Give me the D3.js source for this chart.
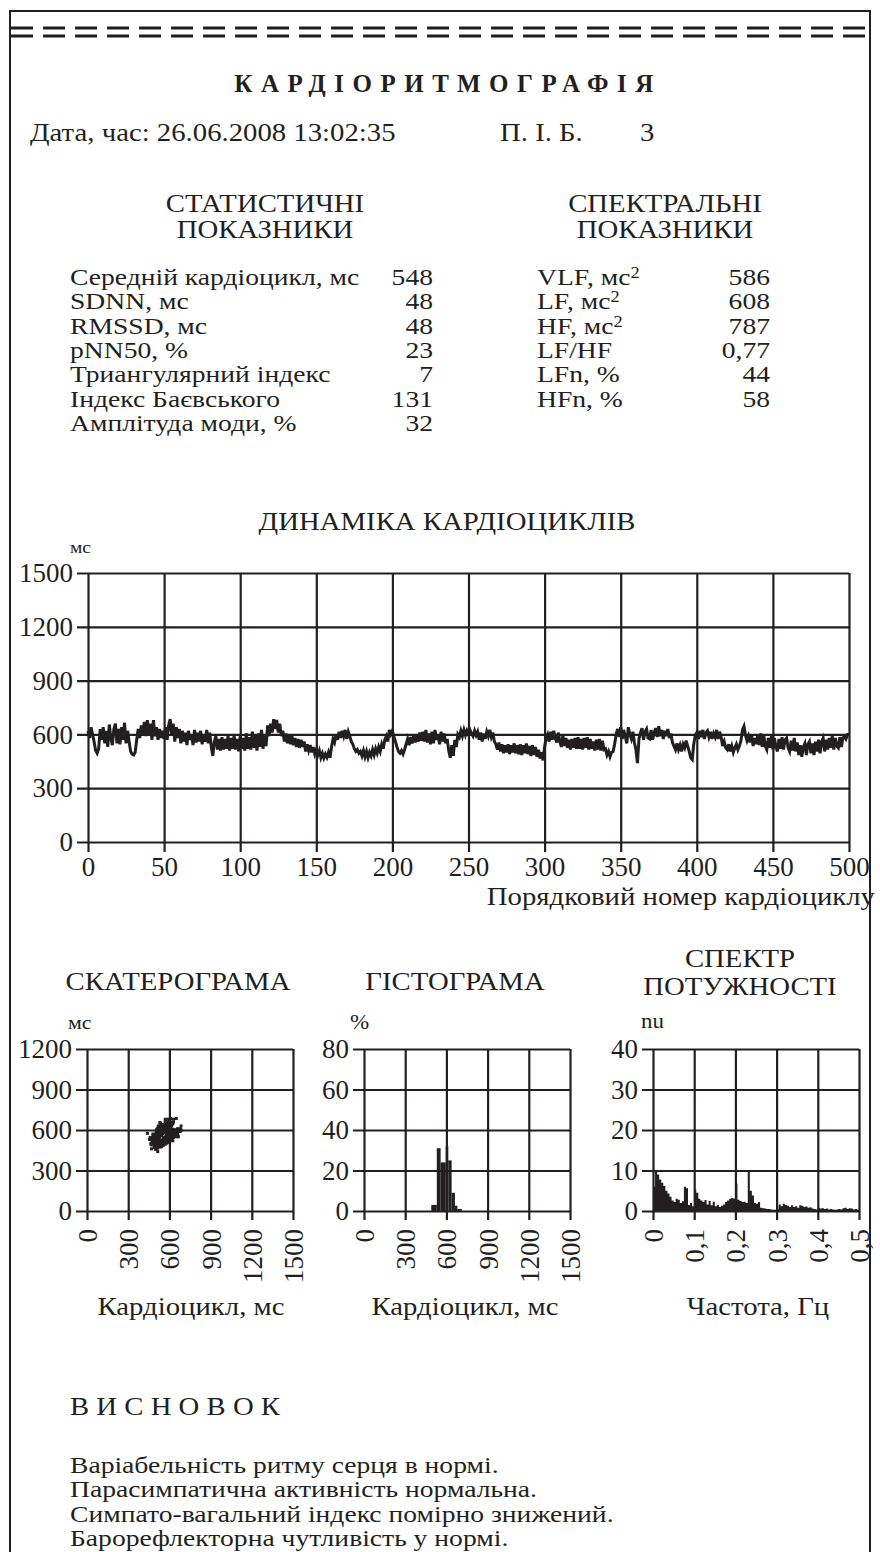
<!DOCTYPE html>
<html>
<head>
<meta charset="utf-8">
<script src="https://cdn.jsdelivr.net/npm/d3@7"></script>
<style>
  body { margin: 0; background: #fff; }
  svg text { font-family: "Liberation Serif", "DejaVu Serif", serif; fill: #231f20; }
</style>
</head>
<body>
<svg id="page" width="880" height="1552" font-family="Liberation Serif"></svg>
<script>
// ---- data ----
const statLabels = ["Середній кардіоцикл, мс", "SDNN, мс", "RMSSD, мс", "pNN50, %",
  "Триангулярний індекс", "Індекс Баєвського", "Амплітуда моди, %"];
const statValues = ["548", "48", "48", "23", "7", "131", "32"];

const spectralLabels = ["VLF, мс", "LF, мс", "HF, мс", "LF/HF", "LFn, %", "HFn, %"];
const spectralSup = ["2", "2", "2", "", "", ""];
const spectralValues = ["586", "608", "787", "0,77", "44", "58"];

// RR intervals, ms, cycle 0..500
const rrValues = [
  620, 580, 640, 600, 560, 510, 495, 520, 630, 570, 640, 550, 620, 530, 655, 580, 540, 630, 660, 550,
  630, 545, 640, 570, 665, 550, 620, 560, 505, 490, 485, 500, 570, 630, 580, 650, 600, 670, 590, 680,
  600, 660, 570, 680, 590, 640, 570, 630, 580, 620, 575, 640, 570, 650, 685, 600, 660, 560, 640, 580,
  630, 550, 620, 560, 610, 540, 620, 570, 600, 540, 625, 555, 610, 560, 620, 545, 600, 560, 625, 550,
  610, 530, 480, 560, 590, 515, 575, 510, 585, 515, 575, 520, 590, 510, 580, 520, 595, 515, 575, 505,
  590, 520, 580, 510, 605, 520, 585, 515, 615, 525, 595, 510, 605, 530, 625, 520, 590, 535, 650, 590,
  660, 610, 685, 630, 680, 610, 660, 590, 620, 560, 605, 550, 600, 545, 590, 540, 580, 530, 575, 525,
  570, 530, 560, 505, 545, 510, 540, 500, 530, 490, 515, 485, 510, 470, 495, 468, 490, 472, 500, 470,
  530, 575, 555, 600, 570, 615, 580, 620, 590, 625, 575, 615, 590, 560, 545, 520, 505, 515, 495, 505,
  480, 510, 475, 505, 470, 500, 480, 515, 485, 520, 495, 530, 505, 545, 520, 570, 590, 560, 625, 600,
  620, 585, 560, 530, 505, 495, 510, 490, 515, 545, 575, 540, 585, 550, 595, 555, 600, 560, 610, 565,
  615, 560, 625, 555, 605, 545, 615, 550, 625, 570, 600, 545, 615, 560, 605, 550, 575, 510, 470, 540,
  480, 570, 530, 600, 585, 620, 590, 625, 595, 620, 600, 625, 605, 590, 620, 595, 615, 570, 610, 560,
  605, 575, 615, 590, 625, 585, 610, 560, 545, 515, 555, 505, 545, 495, 540, 500, 545, 490, 540, 500,
  550, 495, 540, 490, 545, 485, 540, 495, 550, 490, 535, 480, 540, 485, 530, 475, 515, 465, 500, 455,
  530, 580, 600, 560, 615, 570, 620, 580, 555, 610, 560, 530, 595, 535, 580, 525, 570, 515, 575, 525,
  580, 520, 585, 520, 575, 515, 580, 525, 585, 515, 575, 520, 560, 510, 570, 515, 575, 510, 565, 515,
  520, 485, 505, 475, 500, 505, 545, 600, 630, 585, 640, 575, 625, 590, 550, 640, 600, 575, 615, 555,
  515, 440, 575, 610, 635, 570, 615, 630, 580, 575, 625, 570, 610, 635, 585, 645, 590, 625, 575, 620,
  590, 630, 580, 605, 555, 535, 515, 550, 515, 540, 505, 545, 525, 565, 535, 505, 470, 460, 545, 595,
  610, 575, 620, 585, 625, 575, 610, 620, 585, 615, 575, 605, 585, 625, 575, 615, 585, 535, 560, 525,
  515, 545, 505, 535, 500, 525, 545, 515, 535, 565, 625, 645, 595, 565, 590, 555, 595, 535, 580, 545,
  600, 540, 605, 530, 595, 535, 515, 580, 525, 590, 515, 580, 530, 505, 575, 520, 585, 515, 570, 580,
  525, 505, 565, 510, 580, 505, 555, 485, 540, 475, 530, 550, 485, 545, 560, 495, 550, 485, 560, 505,
  570, 495, 560, 580, 505, 570, 515, 580, 525, 590, 515, 580, 535, 525, 585, 530, 580, 590, 575, 600,
  600
];
const dynXTicks = [0, 50, 100, 150, 200, 250, 300, 350, 400, 450, 500];
const dynYTicks = [0, 300, 600, 900, 1200, 1500];

const rrTicks = [0, 300, 600, 900, 1200, 1500];
const scatterYTicks = [0, 300, 600, 900, 1200];

// histogram: bin edges (ms) and share of cycles (%)
const histEdges = [490, 530, 558, 595, 614, 638, 662, 680, 712];
const histValues = [3, 31, 24, 32, 25, 9, 2.6, 1];
const histYTicks = [0, 20, 40, 60, 80];

// power spectrum, nu, one value per 0.005 Hz from 0 Hz
const spectrumStep = 0.005;
const spectrumValues = [
  6, 9.7, 9, 7.8, 7, 6.2, 5, 4.3, 3.5, 2.6, 2.2, 3, 2.8, 2, 2.4, 6, 5.6, 1.5, 2, 1.2,
  5.3, 4.5, 3, 2.6, 2.2, 2.7, 1.6, 2.5, 1.4, 2.3, 1.2, 1.5, 1.0, 1.3, 1.6, 2.2, 2.6, 3, 3.2, 3,
  6.8, 2.8, 2.5, 2.2, 2.3, 2, 9.8, 5, 3.8, 2, 1.8, 2.2, 0.8, 0.7, 0.6, 0.5, 0.5, 0.4, 0.3, 0.3,
  0.5, 1.6, 1.2, 1.8, 1.5, 1.3, 1.0, 1.4, 1.0, 1.2, 0.8, 1.4, 1.3, 1.0, 1.1, 0.8, 0.9, 0.6, 0.5, 0.4,
  0.8, 0.6, 0.7, 0.5, 0.6, 0.4, 0.5, 0.4, 0.3, 0.4, 0.5, 0.4, 0.7, 0.8, 0.5, 0.7, 0.6, 0.4, 0.5, 0.3
];
const freqTicks = [0, 0.1, 0.2, 0.3, 0.4, 0.5];
const spectrumYTicks = [0, 10, 20, 30, 40];

const conclusionLines = [
  "Варіабельність ритму серця в нормі.",
  "Парасимпатична активність нормальна.",
  "Симпато-вагальний індекс помірно знижений.",
  "Барорефлекторна чутливість у нормі."
];

// ---- drawing ----
const ink = "#231f20";
const bodySize = 25;   // single lines
const rowSize = 24;    // tightly stacked lines
const stretch = 1.15;  // the print face is wider than Times
const tickSize = 27;
const svg = d3.select("#page");

function text(x, y, str, size, anchor, sx) {
  return svg.append("text")
    .attr("transform", `translate(${x},${y}) scale(${sx || stretch},1)`)
    .attr("font-size", size)
    .attr("text-anchor", anchor || "start")
    .text(str);
}

// page frame and the double dashed rule
svg.append("path")
  .attr("d", "M10,1552V11H870V1552")
  .attr("fill", "none")
  .attr("stroke", ink)
  .attr("stroke-width", 2);
[28, 36].forEach(y => {
  svg.append("line")
    .attr("x1", 11).attr("x2", 869)
    .attr("y1", y).attr("y2", y)
    .attr("stroke", ink)
    .attr("stroke-width", 3)
    .attr("stroke-dasharray", "22 10");
});

text(448, 92, "КАРДІОРИТМОГРАФІЯ", 25, "middle", 1)
  .attr("font-weight", "bold")
  .attr("letter-spacing", 8.5);

text(30, 141, "Дата, час: 26.06.2008 13:02:35", bodySize);
text(500, 141, "П. І. Б.", bodySize);
text(640, 141, "3", bodySize);

text(265, 212, "СТАТИСТИЧНІ", bodySize, "middle");
text(265, 238, "ПОКАЗНИКИ", bodySize, "middle");
text(665, 212, "СПЕКТРАЛЬНІ", bodySize, "middle");
text(665, 238, "ПОКАЗНИКИ", bodySize, "middle");

const rowY = i => 285 + i * 24.3;
statLabels.forEach((d, i) => {
  text(70, rowY(i), d, rowSize);
  text(433, rowY(i), statValues[i], rowSize, "end");
});
spectralLabels.forEach((d, i) => {
  const t = text(537, rowY(i), d, rowSize);
  if (spectralSup[i]) {
    t.append("tspan").attr("font-size", 16).attr("dy", -7).text(spectralSup[i]);
  }
  text(770, rowY(i), spectralValues[i], rowSize, "end");
});

// grid + ticks for one chart; ticks run outward, grid spans the plot
function drawAxes(xs, ys, xTicks, yTicks, xFmt, yFmt, rotate) {
  const [x0, x1] = xs.range();
  const [y0, y1] = ys.range();
  const g = svg.append("g");

  g.append("g")
    .attr("transform", `translate(${x0},0)`)
    .call(d3.axisLeft(ys).tickValues(yTicks).tickFormat(yFmt).tickSize(11).tickPadding(4))
    .call(a => {
      a.select(".domain").remove();
      a.attr("font-family", null).attr("font-size", tickSize);
      a.selectAll(".tick line").attr("x1", x1 - x0).attr("stroke", ink).attr("stroke-width", 2.2);
      a.selectAll(".tick text").attr("fill", ink);
    });

  const xa = g.append("g")
    .attr("transform", `translate(0,${y0})`)
    .call(d3.axisBottom(xs).tickValues(xTicks).tickFormat(xFmt).tickSize(rotate ? 9 : 10).tickPadding(rotate ? 9 : 5))
    .call(a => {
      a.select(".domain").remove();
      a.attr("font-family", null).attr("font-size", tickSize);
      a.selectAll(".tick line").attr("y1", y1 - y0).attr("stroke", ink).attr("stroke-width", 2.2);
      a.selectAll(".tick text").attr("fill", ink);
    });

  if (rotate) {
    xa.selectAll(".tick text")
      .attr("transform", "rotate(-90)")
      .attr("text-anchor", "end")
      .attr("x", -18)
      .attr("y", 0)
      .attr("dy", "0.35em");
  }
  return g;
}

// ---- dynamics of cardiocycles ----
text(447, 530, "ДИНАМІКА КАРДІОЦИКЛІВ", bodySize, "middle");
text(70, 553, "мс", 17);

const xDyn = d3.scaleLinear().domain([0, 500]).range([88, 849]);
const yDyn = d3.scaleLinear().domain([0, 1500]).range([842, 573]);
drawAxes(xDyn, yDyn, dynXTicks, dynYTicks, d => d, d => d, false);

svg.append("path")
  .datum(rrValues)
  .attr("fill", "none")
  .attr("stroke", ink)
  .attr("stroke-width", 3)
  .attr("stroke-linejoin", "miter")
  .attr("d", d3.line().x((d, i) => xDyn(i)).y(d => yDyn(d)));

text(875, 905, "Порядковий номер кардіоциклу", bodySize, "end");

// ---- small charts ----
text(178, 990, "СКАТЕРОГРАМА", bodySize, "middle");
text(455, 990, "ГІСТОГРАМА", bodySize, "middle");
text(740, 967, "СПЕКТР", bodySize, "middle");
text(740, 995, "ПОТУЖНОСТІ", bodySize, "middle");

const smallTop = 1049, smallBottom = 1211;

// scatterogram: RR(n) against RR(n+1)
text(68, 1029, "мс", 19);
const xSc = d3.scaleLinear().domain([0, 1500]).range([87, 293]);
const ySc = d3.scaleLinear().domain([0, 1200]).range([smallBottom, smallTop]);
drawAxes(xSc, ySc, rrTicks, scatterYTicks, d => d, d => d, true);
svg.append("g")
  .selectAll("rect")
  .data(d3.pairs(rrValues))
  .join("rect")
  .attr("x", d => xSc(d[0]) - 1.5)
  .attr("y", d => ySc(d[1]) - 1.5)
  .attr("width", 3)
  .attr("height", 3)
  .attr("fill", ink);
text(191, 1315, "Кардіоцикл, мс", bodySize, "middle");

// histogram
text(350, 1029, "%", 20);
const xH = d3.scaleLinear().domain([0, 1500]).range([364, 570]);
const yH = d3.scaleLinear().domain([0, 80]).range([smallBottom, smallTop]);
drawAxes(xH, yH, rrTicks, histYTicks, d => d, d => d, true);
svg.append("g")
  .selectAll("rect")
  .data(histValues)
  .join("rect")
  .attr("x", (d, i) => xH(histEdges[i]))
  .attr("width", (d, i) => xH(histEdges[i + 1]) - xH(histEdges[i]))
  .attr("y", d => yH(d))
  .attr("height", d => yH(0) - yH(d))
  .attr("fill", ink);
text(465, 1315, "Кардіоцикл, мс", bodySize, "middle");

// power spectrum
text(641, 1028, "nu", 20);
const xF = d3.scaleLinear().domain([0, 0.5]).range([653, 859]);
const yF = d3.scaleLinear().domain([0, 40]).range([smallBottom, smallTop]);
drawAxes(xF, yF, freqTicks, spectrumYTicks, d => d === 0 ? "0" : d3.format(".1f")(d).replace(".", ","), d => d, true);
const specPts = spectrumValues.map((v, i) => [i * spectrumStep, v]);
specPts.push([0.5, spectrumValues[spectrumValues.length - 1]]);
svg.append("path")
  .datum(specPts)
  .attr("fill", ink)
  .attr("d", d3.area().curve(d3.curveStepAfter).x(d => xF(d[0])).y0(yF(0)).y1(d => yF(d[1])));
text(758, 1315, "Частота, Гц", bodySize, "middle");

// ---- conclusion ----
text(70, 1415, "В И С Н О В О К", bodySize);
conclusionLines.forEach((d, i) => text(70, 1473 + i * 24.3, d, rowSize));
</script>
</body>
</html>
